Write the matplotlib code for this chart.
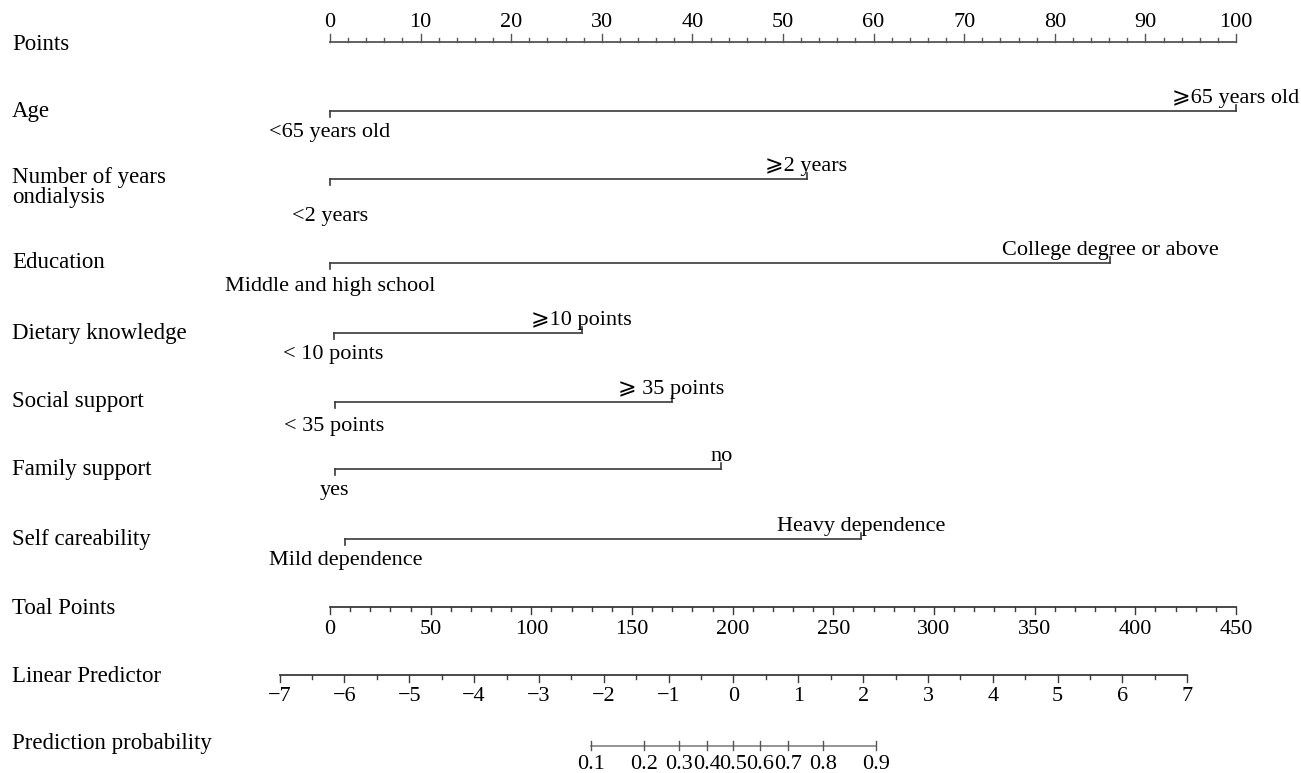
import numpy as np
import matplotlib
matplotlib.use("Agg")
import matplotlib.pyplot as plt

plt.rcParams["font.family"] = ["Liberation Serif", "DejaVu Serif", "DejaVu Sans"]

# --- data ---
row_names = ["Age", "Number of years\nondialysis", "Education", "Dietary knowledge",
             "Social support", "Family support", "Self careability"]
low_labels = ["<65 years old", "<2 years", "Middle and high school", "< 10 points",
              "< 35 points", "yes", "Mild dependence"]
high_labels = ["\u2a7e65 years old", "\u2a7e2 years", "College degree or above",
               "\u2a7e10 points", "\u2a7e 35 points", "no", "Heavy dependence"]
low_points = [0, 0, 0, 0.4, 0.5, 0.5, 1.7]
high_points = [100, 52.6, 86.1, 27.8, 37.7, 43.2, 58.6]

points_ticks = np.arange(0, 101, 10)
total_ticks = np.arange(0, 451, 50)
lp_ticks = np.arange(-7, 8, 1)
prob_ticks = [0.1, 0.2, 0.3, 0.4, 0.5, 0.6, 0.7, 0.8, 0.9]

total_max = 450
lp_at_zero_total = 200.4   # total points where linear predictor = 0
total_per_lp = 32.2        # total points per unit of linear predictor

# --- layout (pixel rows) ---
W, H = 1301, 773
x0_px, px_per_pt = 330, 9.06
row_y = [111, 179, 263, 333, 402, 469, 539]
low_dy = [21, 38, 23, 22, 24, 22, 22]
y_points, y_total, y_lp, y_prob = 42, 607, 675, 746

LC = "#3a3a3a"
FS_ROW, FS_TXT = 16.5, 16

fig = plt.figure(figsize=(W / 100, H / 100), dpi=100)
ax = fig.add_axes([0, 0, 1, 1])
ax.set_xlim(-x0_px / px_per_pt, (W - x0_px) / px_per_pt)
ax.set_ylim(H, 0)
ax.axis("off")


def tot_to_pts(t):
    return np.asarray(t) * 100.0 / total_max


def lp_to_pts(lp):
    return tot_to_pts(lp_at_zero_total + total_per_lp * np.asarray(lp))


def row_label(text, y):
    if "\n" in text:
        ax.text(-x0_px / px_per_pt + 12 / px_per_pt, y - 12, text, fontsize=FS_ROW,
                va="top", ha="left", linespacing=0.95)
    else:
        ax.text(-x0_px / px_per_pt + 12 / px_per_pt, y, text, fontsize=FS_ROW,
                va="center", ha="left")


# Points scale
row_label("Points", y_points + 2)
ax.plot([0, 100], [y_points, y_points], color="#555555", lw=1.3)
for v in np.arange(0, 101, 2):
    ln = 8 if v % 10 == 0 else 4
    ax.plot([v, v], [y_points, y_points - ln], color="#555555", lw=1)
for v in points_ticks:
    ax.text(v, y_points - 10, str(v), fontsize=FS_TXT, ha="center", va="bottom")

# categorical predictors
for name, lo, hi, lp, hp, y, dy in zip(row_names, low_labels, high_labels,
                                        low_points, high_points, row_y, low_dy):
    row_label(name, y)
    ax.plot([lp, hp], [y, y], color=LC, lw=1.2)
    ax.plot([lp, lp], [y, y + 6], color=LC, lw=1.2)
    ax.plot([hp, hp], [y, y - 6], color=LC, lw=1.2)
    ax.text(hp, y - 3, hi, fontsize=FS_TXT, ha="center", va="bottom")
    ax.text(lp, y + dy, lo, fontsize=FS_TXT, ha="center", va="center")

# Total points
row_label("Toal Points", y_total + 1)
ax.plot(tot_to_pts([0, total_max]), [y_total, y_total], color=LC, lw=1.3)
for v in np.arange(0, total_max + 1, 10):
    ln = 7 if v % 50 == 0 else 4
    xp = tot_to_pts(v)
    ax.plot([xp, xp], [y_total, y_total + ln], color=LC, lw=1)
for v in total_ticks:
    ax.text(tot_to_pts(v), y_total + 13, str(v), fontsize=FS_TXT, ha="center", va="top")

# Linear predictor
row_label("Linear Predictor", y_lp + 1)
ax.plot(lp_to_pts([lp_ticks[0], lp_ticks[-1]]), [y_lp, y_lp], color=LC, lw=1.3)
for v in np.arange(lp_ticks[0], lp_ticks[-1] + 0.01, 0.5):
    ln = 7 if float(v).is_integer() else 4
    xp = lp_to_pts(v)
    ax.plot([xp, xp], [y_lp, y_lp + ln], color=LC, lw=1)
for v in lp_ticks:
    lab = str(v).replace("-", "\u2212")
    ax.text(lp_to_pts(v), y_lp + 12, lab, fontsize=FS_TXT, ha="center", va="top")

# Prediction probability
row_label("Prediction probability", y_prob - 3)
prob = np.array(prob_ticks)
prob_x = lp_to_pts(np.log(prob / (1 - prob)))
ax.plot([prob_x[0], prob_x[-1]], [y_prob, y_prob], color="#777777", lw=1.1)
for xp, p in zip(prob_x, prob_ticks):
    ax.plot([xp, xp], [y_prob - 5, y_prob + 4], color="#555555", lw=1)
    ax.text(xp, y_prob + 9, f"{p:.1f}", fontsize=FS_TXT, ha="center", va="top")

fig.savefig("out.png", dpi=100, facecolor="white")
